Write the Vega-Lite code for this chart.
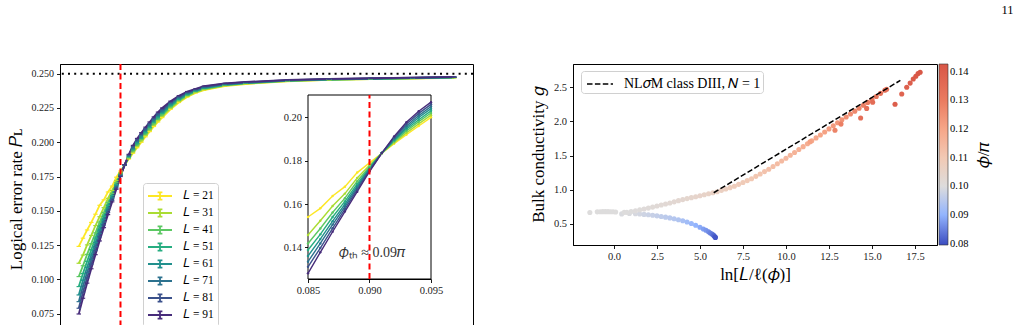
{
  "$schema": "https://vega.github.io/schema/vega-lite/v6.json",
  "padding": {"left": 6, "top": 4, "right": 6, "bottom": 0},
  "title": {"text": "11", "anchor": "end", "fontSize": 12.5, "fontWeight": "normal", "font": "Liberation Serif", "offset": 46, "dx": 21, "color": "black"},
  "config": {
    "font": "Liberation Serif",
    "view": {"stroke": "black", "strokeWidth": 1},
    "axis": {"grid": false, "domainColor": "black", "domainWidth": 1, "tickColor": "black", "tickWidth": 0.9, "tickSize": 3.5, "labelColor": "#222", "labelFontSize": 10, "labelPadding": 3, "labelOverlap": false, "labelFlush": false, "titleFontSize": 17, "titleFontWeight": "normal", "titleColor": "black", "labelFont": "Liberation Serif", "titleFont": "Liberation Serif"},
    "legend": {"labelFont": "Liberation Serif", "titleFont": "Liberation Serif", "labelColor": "black", "titleColor": "black", "titleFontWeight": "normal"}
  },
  "datasets": {
    "pl": [
      {"phi": 0.080, "21": 0.124, "31": 0.1117, "41": 0.102, "51": 0.0947, "61": 0.0886, "71": 0.0837, "81": 0.0789, "91": 0.0747},
      {"phi": 0.081, "21": 0.130, "31": 0.1177, "41": 0.1099, "51": 0.1042, "61": 0.0993, "71": 0.0950, "81": 0.0906, "91": 0.0862},
      {"phi": 0.082, "21": 0.136, "31": 0.1251, "41": 0.1182, "51": 0.1131, "61": 0.1088, "71": 0.1050, "81": 0.1011, "91": 0.0972},
      {"phi": 0.083, "21": 0.1415, "31": 0.1320, "41": 0.1260, "51": 0.1216, "61": 0.1178, "71": 0.1145, "81": 0.1111, "91": 0.1077},
      {"phi": 0.084, "21": 0.1475, "31": 0.1392, "41": 0.1339, "51": 0.1301, "61": 0.1268, "71": 0.1239, "81": 0.1209, "91": 0.1180},
      {"phi": 0.085, "21": 0.154, "31": 0.1457, "41": 0.1418, "51": 0.1388, "61": 0.136, "71": 0.1334, "81": 0.131, "91": 0.128},
      {"phi": 0.086, "21": 0.158, "31": 0.1523, "41": 0.1487, "51": 0.1460, "61": 0.1438, "71": 0.1418, "81": 0.1397, "91": 0.1377},
      {"phi": 0.087, "21": 0.1637, "31": 0.1591, "41": 0.1561, "51": 0.1540, "61": 0.1521, "71": 0.1505, "81": 0.1488, "91": 0.1472},
      {"phi": 0.088, "21": 0.168, "31": 0.1648, "41": 0.1627, "51": 0.1612, "61": 0.1599, "71": 0.1588, "81": 0.1576, "91": 0.1565},
      {"phi": 0.089, "21": 0.1745, "31": 0.1720, "41": 0.1705, "51": 0.1693, "61": 0.1683, "71": 0.1675, "81": 0.1666, "91": 0.1657},
      {"phi": 0.090, "21": 0.179, "31": 0.1779, "41": 0.1772, "51": 0.1766, "61": 0.1762, "71": 0.1758, "81": 0.1754, "91": 0.175},
      {"phi": 0.091, "21": 0.1834, "31": 0.1834, "41": 0.1835, "51": 0.1835, "61": 0.1835, "71": 0.1835, "81": 0.1835, "91": 0.1835},
      {"phi": 0.092, "21": 0.1878, "31": 0.1883, "41": 0.1888, "51": 0.1893, "61": 0.1897, "71": 0.1902, "81": 0.1907, "91": 0.1912},
      {"phi": 0.093, "21": 0.192, "31": 0.1928, "41": 0.1937, "51": 0.1945, "61": 0.1952, "71": 0.1960, "81": 0.1969, "91": 0.1977},
      {"phi": 0.094, "21": 0.196, "31": 0.1970, "41": 0.1980, "51": 0.1989, "61": 0.1999, "71": 0.2008, "81": 0.2018, "91": 0.2028},
      {"phi": 0.095, "21": 0.200, "31": 0.201, "41": 0.202, "51": 0.203, "61": 0.204, "71": 0.205, "81": 0.206, "91": 0.207},
      {"phi": 0.096, "21": 0.204, "31": 0.205, "41": 0.206, "51": 0.207, "61": 0.208, "71": 0.209, "81": 0.210, "91": 0.211},
      {"phi": 0.097, "21": 0.2078, "31": 0.2088, "41": 0.2098, "51": 0.2108, "61": 0.2118, "71": 0.2128, "81": 0.2138, "91": 0.2148},
      {"phi": 0.098, "21": 0.2115, "31": 0.2125, "41": 0.2135, "51": 0.2145, "61": 0.2155, "71": 0.2165, "81": 0.2175, "91": 0.2185},
      {"phi": 0.099, "21": 0.2148, "31": 0.2158, "41": 0.2169, "51": 0.2179, "61": 0.2189, "71": 0.2199, "81": 0.2210, "91": 0.222},
      {"phi": 0.100, "21": 0.218, "31": 0.219, "41": 0.220, "51": 0.221, "61": 0.222, "71": 0.223, "81": 0.224, "91": 0.225},
      {"phi": 0.102, "21": 0.224, "31": 0.2248, "41": 0.2257, "51": 0.2266, "61": 0.2274, "71": 0.2283, "81": 0.2292, "91": 0.230},
      {"phi": 0.104, "21": 0.229, "31": 0.2297, "41": 0.2305, "51": 0.2312, "61": 0.2319, "71": 0.2326, "81": 0.2333, "91": 0.234},
      {"phi": 0.106, "21": 0.233, "31": 0.2336, "41": 0.2342, "51": 0.2347, "61": 0.2353, "71": 0.2358, "81": 0.2364, "91": 0.237},
      {"phi": 0.108, "21": 0.236, "31": 0.2364, "41": 0.2369, "51": 0.2373, "61": 0.2377, "71": 0.2381, "81": 0.2386, "91": 0.239},
      {"phi": 0.110, "21": 0.238, "31": 0.2384, "41": 0.2389, "51": 0.2393, "61": 0.2397, "71": 0.2401, "81": 0.2406, "91": 0.241},
      {"phi": 0.115, "21": 0.241, "31": 0.2413, "41": 0.2416, "51": 0.2419, "61": 0.2421, "71": 0.2424, "81": 0.2427, "91": 0.243},
      {"phi": 0.120, "21": 0.2425, "31": 0.2428, "41": 0.243, "51": 0.2432, "61": 0.2434, "71": 0.2436, "81": 0.2438, "91": 0.244},
      {"phi": 0.130, "21": 0.2445, "31": 0.2446, "41": 0.2448, "51": 0.2449, "61": 0.245, "71": 0.2451, "81": 0.2453, "91": 0.2455},
      {"phi": 0.140, "21": 0.2455, "31": 0.2456, "41": 0.2457, "51": 0.2458, "61": 0.2459, "71": 0.246, "81": 0.2461, "91": 0.2462},
      {"phi": 0.150, "21": 0.246, "31": 0.2461, "41": 0.2462, "51": 0.2463, "61": 0.2464, "71": 0.2465, "81": 0.2466, "91": 0.2467},
      {"phi": 0.160, "21": 0.2465, "31": 0.2466, "41": 0.2467, "51": 0.2468, "61": 0.2469, "71": 0.247, "81": 0.2471, "91": 0.2472},
      {"phi": 0.170, "21": 0.247, "31": 0.2471, "41": 0.2472, "51": 0.2473, "61": 0.2474, "71": 0.2475, "81": 0.2476, "91": 0.2477}
    ],
    "g": [
      {"x": -1.4, "g": 0.665, "p": 0.1}, {"x": -0.97, "g": 0.675, "p": 0.1}, {"x": -0.8, "g": 0.677, "p": 0.1}, {"x": -0.65, "g": 0.678, "p": 0.1}, {"x": -0.5, "g": 0.678, "p": 0.1}, {"x": -0.35, "g": 0.678, "p": 0.1}, {"x": -0.2, "g": 0.677, "p": 0.1}, {"x": -0.05, "g": 0.676, "p": 0.1}, {"x": 0.1, "g": 0.674, "p": 0.1}, {"x": 0.45, "g": 0.645, "p": 0.0995}, {"x": 0.6, "g": 0.668, "p": 0.1},
      {"x": 0.9, "g": 0.652, "p": 0.0995}, {"x": 1.25, "g": 0.648, "p": 0.099}, {"x": 1.5, "g": 0.643, "p": 0.0985}, {"x": 1.75, "g": 0.638, "p": 0.098}, {"x": 2.0, "g": 0.632, "p": 0.0975}, {"x": 2.25, "g": 0.625, "p": 0.097}, {"x": 2.5, "g": 0.617, "p": 0.0965}, {"x": 2.75, "g": 0.608, "p": 0.096}, {"x": 3.0, "g": 0.598, "p": 0.0955}, {"x": 3.25, "g": 0.587, "p": 0.095}, {"x": 3.5, "g": 0.575, "p": 0.0945}, {"x": 3.75, "g": 0.56, "p": 0.094}, {"x": 4.0, "g": 0.545, "p": 0.093}, {"x": 4.25, "g": 0.527, "p": 0.092}, {"x": 4.5, "g": 0.505, "p": 0.091}, {"x": 4.75, "g": 0.48, "p": 0.09}, {"x": 5.0, "g": 0.45, "p": 0.089}, {"x": 5.2, "g": 0.425, "p": 0.088}, {"x": 5.35, "g": 0.405, "p": 0.087}, {"x": 5.5, "g": 0.385, "p": 0.086}, {"x": 5.6, "g": 0.365, "p": 0.085}, {"x": 5.7, "g": 0.35, "p": 0.084}, {"x": 5.78, "g": 0.335, "p": 0.083}, {"x": 5.83, "g": 0.32, "p": 0.082}, {"x": 5.88, "g": 0.308, "p": 0.081}, {"x": 5.9, "g": 0.3, "p": 0.0805},
      {"x": 0.75, "g": 0.668, "p": 0.1}, {"x": 1.0, "g": 0.68, "p": 0.1}, {"x": 1.25, "g": 0.692, "p": 0.1003}, {"x": 1.5, "g": 0.705, "p": 0.1005}, {"x": 1.75, "g": 0.718, "p": 0.1008}, {"x": 2.0, "g": 0.73, "p": 0.101}, {"x": 2.25, "g": 0.745, "p": 0.1013}, {"x": 2.5, "g": 0.76, "p": 0.1015}, {"x": 2.75, "g": 0.775, "p": 0.1018}, {"x": 3.0, "g": 0.79, "p": 0.102}, {"x": 3.25, "g": 0.806, "p": 0.1023}, {"x": 3.5, "g": 0.822, "p": 0.1025}, {"x": 3.75, "g": 0.839, "p": 0.1028}, {"x": 4.0, "g": 0.855, "p": 0.103}, {"x": 4.25, "g": 0.869, "p": 0.1034}, {"x": 4.5, "g": 0.883, "p": 0.1038}, {"x": 4.75, "g": 0.896, "p": 0.1042}, {"x": 5.0, "g": 0.91, "p": 0.1046}, {"x": 5.25, "g": 0.925, "p": 0.105}, {"x": 5.5, "g": 0.94, "p": 0.1054}, {"x": 5.75, "g": 0.955, "p": 0.1058}, {"x": 6.0, "g": 0.97, "p": 0.106}, {"x": 6.25, "g": 0.99, "p": 0.1065}, {"x": 6.5, "g": 1.01, "p": 0.107}, {"x": 6.75, "g": 1.03, "p": 0.1075}, {"x": 7.0, "g": 1.05, "p": 0.108}, {"x": 7.25, "g": 1.078, "p": 0.1085}, {"x": 7.5, "g": 1.105, "p": 0.109}, {"x": 7.75, "g": 1.133, "p": 0.1095}, {"x": 8.0, "g": 1.16, "p": 0.11}, {"x": 8.25, "g": 1.195, "p": 0.1106}, {"x": 8.5, "g": 1.23, "p": 0.1112}, {"x": 8.75, "g": 1.265, "p": 0.1119}, {"x": 9.0, "g": 1.3, "p": 0.1125}, {"x": 9.25, "g": 1.34, "p": 0.1131}, {"x": 9.5, "g": 1.38, "p": 0.1138}, {"x": 9.75, "g": 1.42, "p": 0.1144}, {"x": 10.0, "g": 1.46, "p": 0.115}, {"x": 10.25, "g": 1.503, "p": 0.1156}, {"x": 10.5, "g": 1.545, "p": 0.1163}, {"x": 10.75, "g": 1.588, "p": 0.1169}, {"x": 11.0, "g": 1.63, "p": 0.1175}, {"x": 11.25, "g": 1.673, "p": 0.1181}, {"x": 11.5, "g": 1.715, "p": 0.1188}, {"x": 11.75, "g": 1.758, "p": 0.1194}, {"x": 12.0, "g": 1.8, "p": 0.12}, {"x": 12.25, "g": 1.845, "p": 0.1209}, {"x": 12.5, "g": 1.89, "p": 0.1218}, {"x": 12.75, "g": 1.935, "p": 0.1226}, {"x": 13.0, "g": 1.98, "p": 0.1235}, {"x": 13.25, "g": 2.023, "p": 0.1244}, {"x": 13.5, "g": 2.065, "p": 0.1253}, {"x": 13.75, "g": 2.108, "p": 0.1261}, {"x": 14.0, "g": 2.15, "p": 0.127}, {"x": 14.25, "g": 2.193, "p": 0.128}, {"x": 14.5, "g": 2.235, "p": 0.129}, {"x": 14.75, "g": 2.278, "p": 0.13}, {"x": 15.0, "g": 2.32, "p": 0.131}, {"x": 15.25, "g": 2.365, "p": 0.132}, {"x": 15.5, "g": 2.41, "p": 0.133}, {"x": 15.75, "g": 2.455, "p": 0.1335}, {"x": 15.85, "g": 2.47, "p": 0.134},
      {"x": 11.4, "g": 1.7, "p": 0.121}, {"x": 12.85, "g": 1.87, "p": 0.128}, {"x": 13.2, "g": 1.96, "p": 0.129}, {"x": 14.34, "g": 2.05, "p": 0.134}, {"x": 14.69, "g": 2.19, "p": 0.134}, {"x": 15.04, "g": 2.28, "p": 0.135}, {"x": 16.34, "g": 2.25, "p": 0.14}, {"x": 16.73, "g": 2.4, "p": 0.138}, {"x": 17.02, "g": 2.5, "p": 0.139}, {"x": 17.22, "g": 2.56, "p": 0.14}, {"x": 17.4, "g": 2.62, "p": 0.141}, {"x": 17.55, "g": 2.66, "p": 0.1415}, {"x": 17.68, "g": 2.7, "p": 0.142}, {"x": 17.8, "g": 2.72, "p": 0.1425}
    ],
    "nl": [
      {"x": 5.8, "g": 0.955, "s": "NL𝜎M class DIII, 𝑁 = 1"},
      {"x": 16.65, "g": 2.6, "s": "NL𝜎M class DIII, 𝑁 = 1"}
    ]
  },
  "hconcat": [
    {
      "width": 413,
      "height": 270,
      "layer": [
        {
          "layer": [
            {
              "data": {"name": "pl"},
              "transform": [{"fold": ["21", "31", "41", "51", "61", "71", "81", "91"], "as": ["L", "P"]}],
              "mark": {"type": "line", "strokeWidth": 1.8, "point": {"shape": "M-1,0H1", "size": 20, "filled": false, "strokeWidth": 1.2}},
              "encoding": {
                "x": {"field": "phi", "type": "quantitative", "scale": {"domain": [0.0755, 0.1745], "nice": false, "zero": false}, "axis": {"orient": "bottom", "title": null, "labels": false, "values": [0.08, 0.1, 0.12, 0.14, 0.16]}},
                "y": {"field": "P", "type": "quantitative", "scale": {"domain": [0.0601, 0.2571], "nice": false, "zero": false}, "axis": {"orient": "left", "title": "Logical error rate 𝑃ʟ", "values": [0.075, 0.1, 0.125, 0.15, 0.175, 0.2, 0.225, 0.25], "format": ".3f", "titlePadding": 6, "labelOverlap": false, "labelBound": false, "tickCount": 8}},
                "color": {
                  "field": "L", "type": "nominal",
                  "scale": {"domain": ["21", "31", "41", "51", "61", "71", "81", "91"], "range": ["#fde725", "#aadc32", "#5cc863", "#27ad81", "#21908d", "#2c718e", "#3b518b", "#472c7a"]},
                  "legend": {"orient": "none", "legendX": 83, "legendY": 119, "title": null, "fillColor": "rgba(255,255,255,0.85)", "strokeColor": "#d0d0d0", "cornerRadius": 3, "padding": 4, "symbolType": "M-1.5,0H1.5M0,-0.45V0.45M-0.3,-0.45H0.3M-0.3,0.45H0.3", "symbolSize": 256, "symbolStrokeWidth": 1.8, "symbolOffset": 4, "labelOffset": 14, "labelFontSize": 11.5, "rowPadding": 0, "labelExpr": "'𝐿 = ' + datum.label"}
                }
              }
            },
            {
              "data": {"values": [{}]},
              "mark": {"type": "rule", "color": "black", "strokeDash": [2, 4.2], "strokeWidth": 2},
              "encoding": {"y": {"datum": 0.25}}
            },
            {
              "data": {"values": [{}]},
              "mark": {"type": "rule", "color": "red", "strokeDash": [6, 3.5], "strokeWidth": 2},
              "encoding": {"x": {"datum": 0.09}}
            }
          ]
        },
        {
          "layer": [
            {
              "data": {"values": [{}]},
              "mark": {"type": "rect", "fill": "white", "stroke": "black", "strokeWidth": 1},
              "encoding": {
                "x": {"datum": 0.085, "type": "quantitative", "scale": {"domain": [0.085, 0.095], "range": [248, 371], "nice": false, "zero": false}, "axis": {"orient": "bottom", "offset": -55, "title": null, "values": [0.085, 0.09, 0.095], "format": ".3f", "labelFontSize": 10.5, "labelOverlap": false}},
                "x2": {"datum": 0.095},
                "y": {"datum": 0.1254, "type": "quantitative", "scale": {"domain": [0.1254, 0.2103], "range": [215, 31], "nice": false, "zero": false}, "axis": {"orient": "left", "offset": -248, "title": null, "values": [0.14, 0.16, 0.18, 0.2], "format": ".2f", "labelFontSize": 10.5, "labelOverlap": false}},
                "y2": {"datum": 0.2103}
              }
            },
            {
              "data": {"name": "pl"},
              "transform": [{"fold": ["21", "31", "41", "51", "61", "71", "81", "91"], "as": ["L", "P"]}, {"filter": "datum.phi > 0.0849 && datum.phi < 0.0951"}],
              "mark": {"type": "line", "strokeWidth": 1.4, "clip": true, "point": {"filled": true, "size": 6}},
              "encoding": {
                "x": {"field": "phi", "type": "quantitative"},
                "y": {"field": "P", "type": "quantitative"},
                "color": {"field": "L", "type": "nominal"}
              }
            },
            {
              "data": {"values": [{}]},
              "mark": {"type": "rule", "color": "red", "strokeDash": [6, 3.5], "strokeWidth": 2},
              "encoding": {"x": {"datum": 0.09}, "y": {"datum": 0.1254}, "y2": {"datum": 0.2103}}
            },
            {
              "data": {"values": [{}]},
              "mark": {"type": "text", "fontSize": 14, "color": "#333", "font": "Liberation Serif"},
              "encoding": {"x": {"datum": 0.0902}, "y": {"datum": 0.1372}, "text": {"value": "𝜙ₜₕ ≈ 0.09𝜋"}}
            }
          ]
        }
      ],
      "resolve": {"scale": {"x": "independent", "y": "independent"}, "axis": {"x": "independent", "y": "independent"}}
    },
    {
      "width": 364,
      "height": 181,
      "layer": [
        {
          "data": {"name": "g"},
          "mark": {"type": "circle", "size": 26, "opacity": 1},
          "encoding": {
            "x": {"field": "x", "type": "quantitative", "scale": {"domain": [-2.38, 18.78], "nice": false, "zero": false}, "axis": {"title": "ln[𝐿/ℓ(𝜙)]", "values": [0, 2.5, 5, 7.5, 10, 12.5, 15, 17.5], "format": ".1f", "labelFontSize": 10.5, "titlePadding": 4, "labelOverlap": false}},
            "y": {"field": "g", "type": "quantitative", "scale": {"domain": [0.19, 2.84], "nice": false, "zero": false}, "axis": {"title": "Bulk conductivity 𝑔", "values": [0.5, 1, 1.5, 2, 2.5], "format": ".1f", "labelFontSize": 10.5, "titlePadding": 6, "labelOverlap": false}},
            "color": {
              "field": "p", "type": "quantitative",
              "scale": {"domain": [0.0795, 0.09, 0.1, 0.11, 0.12, 0.13, 0.1427], "range": ["#3b4cc0", "#92b4fe", "#dddcdc", "#f2c9b4", "#f6a688", "#ea7b60", "#d85646"], "interpolate": "rgb"},
              "legend": {"title": "𝜙/𝜋", "titleOrient": "right", "titleFontSize": 17, "gradientLength": 181, "gradientThickness": 9, "values": [0.08, 0.09, 0.1, 0.11, 0.12, 0.13, 0.14], "format": ".2f", "offset": 2, "labelFontSize": 10.5, "labelOverlap": false, "gradientStrokeColor": "#333", "gradientStrokeWidth": 0.6, "encoding": {"title": {"angle": {"value": 270}, "dy": {"value": 20}}}}
            }
          }
        },
        {
          "data": {"name": "nl"},
          "mark": {"type": "line", "color": "black", "strokeWidth": 1.5},
          "encoding": {
            "x": {"field": "x", "type": "quantitative"},
            "y": {"field": "g", "type": "quantitative"},
            "strokeDash": {"field": "s", "type": "nominal", "scale": {"range": [[5.5, 2.4]]}, "legend": {"orient": "none", "legendX": 8, "legendY": 7, "title": null, "fillColor": "rgba(255,255,255,0.85)", "strokeColor": "#d0d0d0", "cornerRadius": 3, "padding": 2, "symbolType": "M-1.3,0H1.3", "symbolSize": 400, "symbolStrokeWidth": 1.5, "symbolStrokeColor": "black", "symbolOffset": 6, "labelOffset": 13, "labelFontSize": 14}}
          }
        }
      ]
    }
  ],
  "spacing": 53,
  "resolve": {"scale": {"color": "independent", "strokeDash": "independent"}, "legend": {"color": "independent"}}
}
